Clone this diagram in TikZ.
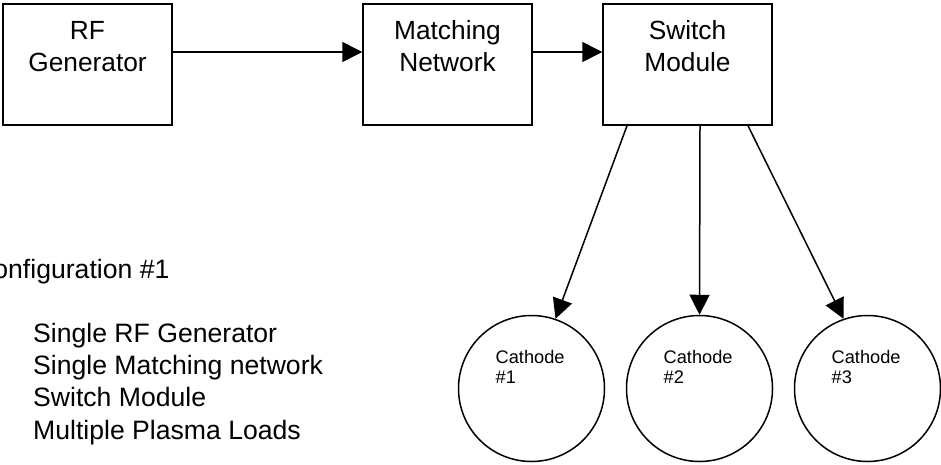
\documentclass[tikz,border=0pt]{standalone}
\usepackage{fontspec}
\setmainfont{Liberation Sans}
\usetikzlibrary{arrows.meta}

\tikzset{
  blk/.style={draw, line width=1.5pt, minimum width=169pt, minimum height=121pt, inner sep=0pt},
  load/.style={draw, circle, line width=1.5pt, minimum size=146pt, inner sep=0pt},
  blktxt/.style={anchor=base, align=center, inner sep=0pt, font=\fontsize{26.3}{32}\selectfont},
  loadtxt/.style={anchor=base west, align=left, inner sep=0pt, font=\fontsize{18.2}{20}\selectfont},
  feed/.style={line width=1.5pt, -{Triangle[length=20pt, width=20pt]}}
}

\begin{document}
\begin{tikzpicture}[x=1pt, y=-1pt]
      \useasboundingbox (0,0) rectangle (941,464);
      \clip (0,0) rectangle (941,464);
      % chain of boxes
      \node[blk] (rf) at (87.5, 64.5) {};
      \node[blk] (mn) at (447.5, 64.5) {};
      \node[blk] (sw) at (687.5, 64.5) {};
      \node[blktxt] (rftxt) at ([yshift=-68pt]rf.north) {RF\\Generator};
      \node[blktxt] (mntxt) at ([yshift=-68pt]mn.north) {Matching\\Network};
      \node[blktxt] (swtxt) at ([yshift=-68pt]sw.north) {Switch\\Module};
      \draw[feed] ([yshift=12.5pt]rf.east) -- ([yshift=12.5pt]mn.west);
      \draw[feed] ([yshift=12.5pt]mn.east) -- ([yshift=12.5pt]sw.west);
      % plasma loads
      \foreach \i/\x in {1/531.5, 2/699.5, 3/867.5} {
        \node[load] (c\i) at (\x, 388.5) {};
        \node[loadtxt] (c\i txt) at ([shift={(-36,-5.5)}]c\i.center) {Cathode\\\#\i};
      }
      \draw[feed] ([xshift=-60.5pt]sw.south) -- (c1.71);
      \draw[feed] ([xshift=12.5pt]sw.south) -- (c2.north);
      \draw[feed] ([xshift=60.5pt]sw.south) -- (c3.109);
      % configuration notes
      \node[anchor=base west, inner sep=0pt, font=\fontsize{26.6}{32}\selectfont] (cfg) at (-26, 278) {Configuration \#1};
      \node[anchor=base west, align=left, inner sep=0pt, font=\fontsize{26.6}{32.3}\selectfont] (items) at (33, 439)
        {Single RF Generator\\Single Matching network\\Switch Module\\Multiple Plasma Loads};
    \end{tikzpicture}
\end{document}
